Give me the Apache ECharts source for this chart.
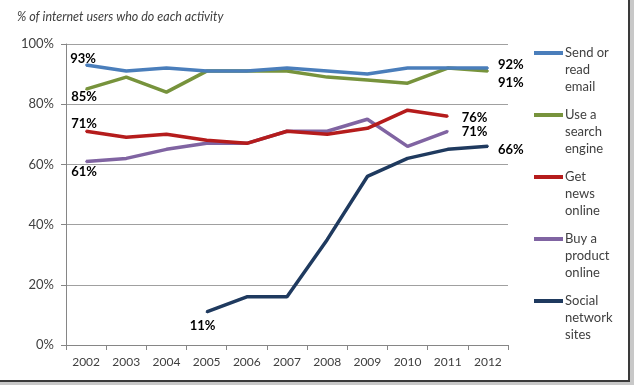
<!DOCTYPE html>
<html>
<head>
<meta charset="utf-8">
<script src="https://cdn.jsdelivr.net/npm/echarts@6/dist/echarts.min.js"></script>
<style>html,body{margin:0;padding:0;background:#fff}#c{width:634px;height:385px}</style>
</head>
<body>
<div id="c"></div>
<script>
const titleText = '% of internet users who do each activity';
const years = ['2002','2003','2004','2005','2006','2007','2008','2009','2010','2011','2012'];
const seriesNames = ['Send or read email','Use a search engine','Get news online','Buy a product online','Social network sites'];
const legendLines = [['Send or','read','email'],['Use a','search','engine'],['Get','news','online'],['Buy a','product','online'],['Social','network','sites']];
const emailVals  = [93, 91, 92, 91, 91, 92, 91, 90, 92, 92, 92];
const searchVals = [85, 89, 84, 91, 91, 91, 89, 88, 87, 92, 91];
const newsVals   = [71, 69, 70, 68, 67, 71, 70, 72, 78, 76, null];
const buyVals    = [61, 62, 65, 67, 67, 71, 71, 75, 66, 71, null];
const socialVals = [null, null, null, 11, 16, 16, 35, 56, 62, 65, 66];
const yTicks = [0, 20, 40, 60, 80, 100];

const colors = ['#4a7ebb','#77933c','#b51c1c','#8064a2','#1f3a5f'];
const allVals = [emailVals, searchVals, newsVals, buyVals, socialVals];

const labelSpec = [
  {0: {position:'top', offset:[-3,6]}, 10: {position:'right', offset:[4,-3]}},
  {0: {position:'bottom', offset:[-2,-5]}, 10: {position:'right', offset:[4,12]}},
  {0: {position:'top', offset:[-2,5]}, 9: {position:'right', offset:[8,2]}},
  {0: {position:'bottom', offset:[-2,-2]}, 9: {position:'right', offset:[8,1]}},
  {3: {position:'bottom', offset:[-4,1]}, 10: {position:'right', offset:[4,3]}}
];

const FONT = 'Lato';
const series = allVals.map((vals, si) => ({
  name: seriesNames[si],
  type: 'line',
  data: vals.map((v, i) => {
    const spec = labelSpec[si][i];
    if (spec && v != null) {
      return {value: v, label: {show: true, position: spec.position, offset: spec.offset, distance: 5,
        formatter: '{c}%', color: '#000', opacity: 1, fontWeight: 'bold', fontSize: 13, fontFamily: FONT}};
    }
    return v;
  }),
  showSymbol: true,
  showAllSymbol: true,
  symbol: 'circle',
  symbolSize: 2,
  connectNulls: false,
  lineStyle: {color: colors[si], width: 3.5},
  itemStyle: {color: colors[si]},
  z: 10 - si,
  animation: false
}));

const graphic = [];
legendLines.forEach((lines, i) => {
  const y0 = 53 + i * 62;
  graphic.push({type:'line', shape:{x1:534, y1:y0, x2:563, y2:y0}, style:{stroke:colors[i], lineWidth:4}});
  lines.forEach((t, j) => {
    graphic.push({type:'text', x:565, y: y0 + j*17, style:{text:t, fill:'#404040', font:'13px ' + FONT, verticalAlign:'middle'}});
  });
});
graphic.push({type:'rect', shape:{x:630, y:0, width:4, height:385}, style:{fill:'#c8c8c8'}, z:-1});
graphic.push({type:'rect', shape:{x:0, y:382, width:634, height:3}, style:{fill:'#c8c8c8'}, z:-1});
graphic.push({type:'line', shape:{x1:629, y1:0, x2:629, y2:381}, style:{stroke:'#3a3a3a', lineWidth:2}});
graphic.push({type:'line', shape:{x1:0, y1:381, x2:630, y2:381}, style:{stroke:'#3a3a3a', lineWidth:2}});

const chart = echarts.init(document.getElementById('c'), null, {renderer:'canvas'});
chart.setOption({
  animation: false,
  title: {text: titleText, left: 12, top: 5, textStyle: {fontStyle:'italic', fontWeight:'normal', fontSize:12.5, color:'#404040', fontFamily: FONT}},
  grid: {left: 66, right: 126, top: 44, bottom: 40, containLabel: false},
  xAxis: {
    type: 'category', data: years, boundaryGap: true,
    axisLine: {lineStyle: {color:'#868686', width:1}},
    axisTick: {show:true, length:5, lineStyle:{color:'#868686'}},
    axisLabel: {color:'#404040', fontSize:12, fontFamily: FONT, margin:11}
  },
  yAxis: {
    type: 'value', min: 0, max: 100, interval: 20,
    axisLine: {show:true, lineStyle:{color:'#868686'}},
    axisTick: {show:true, length:5, lineStyle:{color:'#868686'}},
    axisLabel: {color:'#404040', fontSize:13, fontFamily: FONT, margin:12, formatter: v => yTicks.includes(v) ? v + '%' : ''},
    splitLine: {lineStyle:{color:'#a0a0a0', width:1}}
  },
  series: series,
  graphic: graphic
});
</script>
</body>
</html>
